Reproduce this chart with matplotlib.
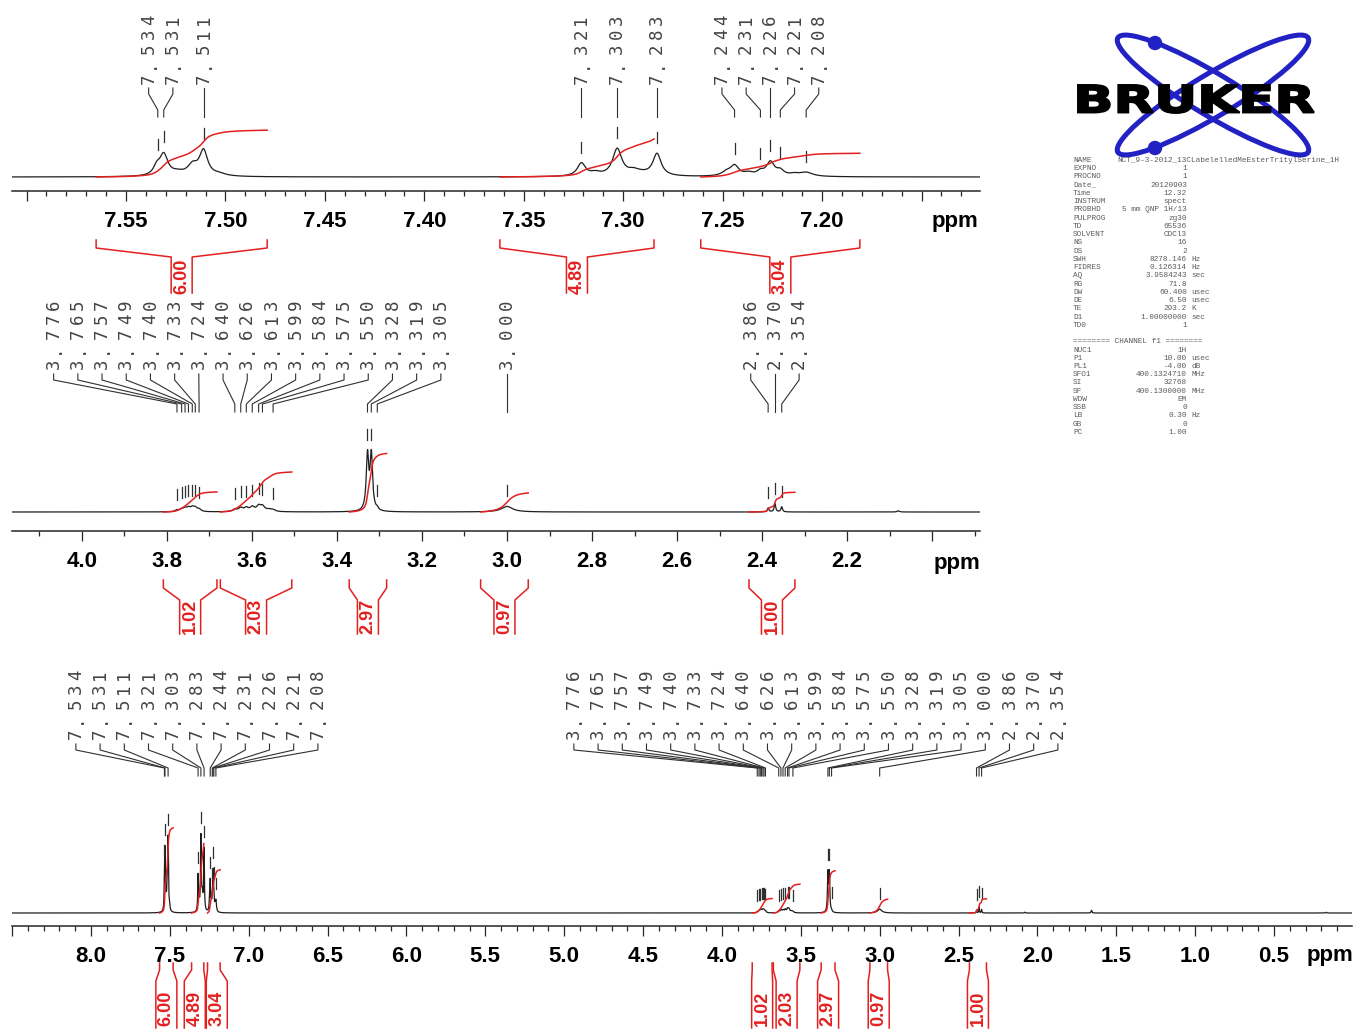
import numpy as np
import matplotlib
matplotlib.use("Agg")
import matplotlib.pyplot as plt
from matplotlib import transforms as mtrans
from matplotlib.textpath import TextPath
from matplotlib.patches import PathPatch, Ellipse, Circle
from matplotlib.font_manager import FontProperties
from matplotlib.ticker import FixedLocator, FixedFormatter, MultipleLocator

plt.rcParams['font.family'] = ['Liberation Sans', 'DejaVu Sans']

# ---------------- data ----------------
aromatic_peaks = [7.534, 7.531, 7.511, 7.321, 7.303, 7.283, 7.244, 7.231, 7.226, 7.221, 7.208]
aliphatic_peaks = [3.776, 3.765, 3.757, 3.749, 3.740, 3.733, 3.724, 3.640, 3.626, 3.613,
                   3.599, 3.584, 3.575, 3.550, 3.328, 3.319, 3.305, 3.000, 2.386, 2.370, 2.354]

# line components of the trace (ppm, relative height, half width in ppm)
line_ppm = [7.5345, 7.5310, 7.5240, 7.5165, 7.5110, 7.5030,
            7.3210, 7.3140, 7.3030, 7.2950, 7.2920, 7.2830,
            7.2480, 7.2440, 7.2370, 7.2310, 7.2260, 7.2210, 7.2140, 7.2080,
            3.776, 3.765, 3.757, 3.749, 3.740, 3.733, 3.724,
            3.640, 3.626, 3.613, 3.599, 3.584, 3.575, 3.560, 3.550,
            3.328, 3.319, 3.305, 3.000, 2.386, 2.370, 2.354, 2.080, 1.657, 0.170]
line_height = [8, 21, 3, 10, 25, 2,
               13, 3, 27, 3, 3, 22,
               4, 10, 3, 4, 14, 5, 2, 4,
               0.40, 0.60, 0.70, 0.85, 0.95, 0.85, 0.60,
               0.60, 0.90, 0.90, 1.10, 1.30, 1.20, 0.50, 0.40,
               13.9, 13.9, 0.5, 1.4, 1.0, 2.1, 1.3, 0.3, 1.0, 0.3]
line_hwhm = [0.0020, 0.0025, 0.004, 0.003, 0.0025, 0.004,
             0.0025, 0.003, 0.0028, 0.003, 0.006, 0.0025,
             0.003, 0.0025, 0.003, 0.002, 0.0025, 0.0022, 0.003, 0.004,
             0.005, 0.005, 0.005, 0.005, 0.005, 0.005, 0.005,
             0.006, 0.006, 0.006, 0.006, 0.006, 0.006, 0.008, 0.006,
             0.0035, 0.0035, 0.003, 0.016, 0.0022, 0.0022, 0.0022, 0.003, 0.003, 0.003]

integral_from = [7.565, 7.362, 7.261, 3.808, 3.674, 3.371, 3.062, 2.431]
integral_to = [7.479, 7.2845, 7.181, 3.682, 3.506, 3.283, 2.950, 2.323]
integral_values = [6.00, 4.89, 3.04, 1.02, 2.03, 2.97, 0.97, 1.00]

param_keys = ["NAME", "EXPNO", "PROCNO", "Date_", "Time", "INSTRUM", "PROBHD", "PULPROG",
              "TD", "SOLVENT", "NS", "DS", "SWH", "FIDRES", "AQ", "RG", "DW", "DE", "TE",
              "D1", "TD0", "", "======== CHANNEL f1 ========", "NUC1", "P1", "PL1", "SFO1",
              "SI", "SF", "WDW", "SSB", "LB", "GB", "PC"]
param_values = ["NCT_9-3-2012_13CLabelelledMeEsterTritylSerine_1H", "1", "1", "20120903",
                "12.32", "spect", "5 mm QNP 1H/13", "zg30", "65536", "CDCl3", "16", "2",
                "8278.146", "0.126314", "3.9584243", "71.8", "60.400", "6.50", "293.2",
                "1.00000000", "1", "", "", "1H", "10.00", "-4.00", "400.1324710", "32768",
                "400.1300000", "EM", "0", "0.30", "0", "1.00"]
param_units = ["", "", "", "", "", "", "", "", "", "", "", "", "Hz", "Hz", "sec", "", "usec",
               "usec", "K", "sec", "", "", "", "", "usec", "dB", "MHz", "", "MHz", "", "", "Hz",
               "", ""]

# ---------------- helpers ----------------
RED = '#e3201f'
INK = '#262626'


def spectrum(x):
    x = np.asarray(x, float)[..., None]
    c = np.array(line_ppm)
    h = np.array(line_height)
    w = np.array(line_hwhm)
    return (h / (1.0 + ((x - c) / w) ** 2)).sum(-1)


def spread(vals, gap):
    vals = list(vals)
    order = np.argsort(vals)
    clusters = [[vals[i]] for i in order]

    def pos(cl):
        c = np.mean(cl)
        n = len(cl)
        return [c + (k - (n - 1) / 2.0) * gap for k in range(n)]

    changed = True
    while changed:
        changed = False
        for i in range(len(clusters) - 1):
            if pos(clusters[i + 1])[0] - pos(clusters[i])[-1] < gap - 1e-9:
                clusters[i] = clusters[i] + clusters[i + 1]
                del clusters[i + 1]
                changed = True
                break
    flat = [p for cl in clusters for p in pos(cl)]
    out = np.empty(len(vals))
    for idx, p in zip(order, flat):
        out[idx] = p
    return out


W, H = 1354, 1030
fig = plt.figure(figsize=(W / 100, H / 100), dpi=100)
ovl = fig.add_axes([0, 0, 1, 1])
ovl.set_xlim(0, W)
ovl.set_ylim(H, 0)
ovl.set_axis_off()

panels = [
    dict(xlim=(7.6073, 7.1206), right=980, y_axis=191, y_top=0, base=14, scale=1.0, iscale=7.8,
         majors=np.round(np.arange(7.15, 7.601, 0.05), 2), lab_lo=7.195, lab_hi=7.555, fmt='%.2f',
         minor=0.01, ppm_xy=(955, 222), peaks=aromatic_peaks, ints=[0, 1, 2],
         lab_bottom=86, leader=(88, 94, 110, 117), bracket=(240, 248, 257, 293, 276)),
    dict(xlim=(4.1639, 1.8878), right=980, y_axis=531, y_top=290, base=19, scale=3.96, iscale=19.7,
         majors=np.round(np.arange(2.0, 4.001, 0.2), 1), lab_lo=2.15, lab_hi=4.05, fmt='%.1f',
         minor=0.1, ppm_xy=(957, 563), peaks=aliphatic_peaks, ints=[3, 4, 5, 6, 7],
         lab_bottom=371, leader=(374, 380, 404, 412), bracket=(580, 588, 600, 634, 616)),
    dict(xlim=(8.5006, 0.0057), right=1352, y_axis=926, y_top=640, base=13, scale=2.75, iscale=14.2,
         majors=np.round(np.arange(0.0, 8.501, 0.5), 1), lab_lo=0.45, lab_hi=8.05, fmt='%.1f',
         minor=0.1, ppm_xy=(1330, 956), peaks=aromatic_peaks + aliphatic_peaks,
         ints=list(range(8)),
         lab_bottom=741, leader=(744, 750, 768, 776), bracket=(963, 970, 981, 1028, 1008)),
]

PITCH = 14.8

for P in panels:
    hpx = P['y_axis'] - P['y_top']
    ax = fig.add_axes([12 / W, 1 - P['y_axis'] / H, (P['right'] - 12) / W, hpx / H])
    ax.set_xlim(*P['xlim'])
    ax.set_ylim(-P['base'] / P['scale'], (hpx - P['base']) / P['scale'])
    ax.patch.set_visible(False)
    for s in ('top', 'left', 'right'):
        ax.spines[s].set_visible(False)
    ax.spines['bottom'].set_linewidth(1.1)
    ax.spines['bottom'].set_color(INK)
    ax.yaxis.set_visible(False)
    majors = P['majors']
    ax.xaxis.set_major_locator(FixedLocator(majors))
    ax.xaxis.set_major_formatter(FixedFormatter(
        [P['fmt'] % m if P['lab_lo'] <= m <= P['lab_hi'] else '' for m in majors]))
    ax.xaxis.set_minor_locator(MultipleLocator(P['minor']))
    ax.tick_params(axis='x', which='major', direction='out', length=7.2, width=0.9,
                   color=INK, pad=7.5, labelsize=16, labelcolor='black')
    ax.tick_params(axis='x', which='minor', direction='out', length=3.6, width=0.9, color=INK)
    for lbl in ax.get_xticklabels():
        lbl.set_fontweight('bold')

    # spectrum trace
    xs = np.linspace(P['xlim'][0], P['xlim'][1], int(abs(P['xlim'][0] - P['xlim'][1]) / 0.0001))
    ax.plot(xs, spectrum(xs), color='#1e1e1e', lw=0.9, zorder=2)

    ovl.text(P['ppm_xy'][0], P['ppm_xy'][1], 'ppm', fontsize=16, fontweight='bold',
             ha='center', va='center')

    blend = mtrans.blended_transform_factory(ax.transData, ovl.transData)

    def fig_y(x, y, ax=ax):
        d = ax.transData.transform((x, y))
        return ovl.transData.inverted().transform(d)[1]

    # integral curves
    axI = ax.twinx()
    axI.set_ylim(-P['base'] / P['iscale'], (hpx - P['base']) / P['iscale'])
    axI.set_axis_off()
    for k in P['ints']:
        xi = np.linspace(integral_from[k], integral_to[k], 900)
        yi = spectrum(xi)
        cum = np.concatenate([[0], np.cumsum(0.5 * (yi[1:] + yi[:-1]) * np.abs(np.diff(xi)))])
        axI.plot(xi, cum / cum[-1] * integral_values[k], color=RED, lw=1.1, zorder=3)

    # peak labels, leaders and markers
    pk = P['peaks']
    pk_disp = [ax.transData.transform((p, 0))[0] for p in pk]
    lab_disp = spread(pk_disp, 24.2)
    y0, y1, y2, y3 = P['leader']
    for p, ld in zip(pk, lab_disp):
        lx = ax.transData.inverted().transform((ld, 0))[0]
        txt = '%.3f' % p
        for i, ch in enumerate(txt):
            yc = P['lab_bottom'] - (i + 0.5) * PITCH
            ax.text(lx, yc, ch, transform=blend, rotation=90, ha='center', va='center',
                    family='DejaVu Sans Mono', fontsize=12.5, fontweight='normal',
                    color='#444444', clip_on=False)
        ax.plot([lx, lx, p, p], [y0, y1, y2, y3], transform=blend, color='#303030',
                lw=0.8, clip_on=False)
        top = fig_y(p, spectrum(p))
        ax.plot([p, p], [top - 10, top - 21], transform=blend, color='#303030',
                lw=0.9, clip_on=False, zorder=4)

    # integral brackets
    ints = P['ints']
    c_disp = [0.5 * (ax.transData.transform((integral_from[k], 0))[0] +
                     ax.transData.transform((integral_to[k], 0))[0]) for k in ints]
    cen = spread(c_disp, 22)
    bt, bk, bd, bb, tc = P['bracket']
    inv = ax.transData.inverted()
    hw = 10.5
    for k, cd in zip(ints, cen):
        cx = inv.transform((cd, 0))[0]
        cl = inv.transform((cd - hw, 0))[0]
        cr = inv.transform((cd + hw, 0))[0]
        x1, x2 = integral_from[k], integral_to[k]
        ax.plot([x1, x1, cl, cl], [bt, bk, bd, bb], transform=blend, color=RED, lw=1.1,
                clip_on=False)
        ax.plot([x2, x2, cr, cr], [bt, bk, bd, bb], transform=blend, color=RED, lw=1.1,
                clip_on=False)
        ax.text(cx, tc, '%.2f' % integral_values[k], transform=blend, rotation=90,
                ha='center', va='center', color=RED, fontsize=13, fontweight='bold',
                clip_on=False)

# ---------------- Bruker logo ----------------
BLUE = '#2222c4'
for ang in (31, -31):
    ovl.add_patch(Ellipse((1213, 95), 222, 42, angle=ang, fill=False, ec=BLUE, lw=3.6, zorder=2))
for cy in (43, 148):
    ovl.add_patch(Circle((1155, cy), 6.5, fc=BLUE, ec=BLUE, zorder=2))
tp = TextPath((0, 0), 'BRUKER', size=100, prop=FontProperties(family='DejaVu Sans', weight='bold'))
bbx = tp.get_extents()
T = mtrans.Affine2D().translate(-bbx.x0, -bbx.y0).scale(236 / bbx.width, -28 / bbx.height).translate(1078, 113)
ovl.add_patch(PathPatch(T.transform_path(tp), fc='black', ec='black', lw=1.4, zorder=3))

# ---------------- acquisition parameters ----------------
py0, ppitch = 160.5, 8.24
pfont = dict(family='Liberation Mono', fontsize=5.6, fontweight='normal', color='#5c5c5c',
             va='center')
for i, (k, v, u) in enumerate(zip(param_keys, param_values, param_units)):
    y = py0 + i * ppitch
    if k:
        ovl.text(1073, y, k, ha='left', **pfont)
    if v:
        if k == 'NAME':
            ovl.text(1117, y, v, ha='left', **pfont)
        else:
            ovl.text(1187, y, v, ha='right', **pfont)
    if u:
        ovl.text(1191, y, u, ha='left', **pfont)

fig.savefig('out.png', dpi=100)
